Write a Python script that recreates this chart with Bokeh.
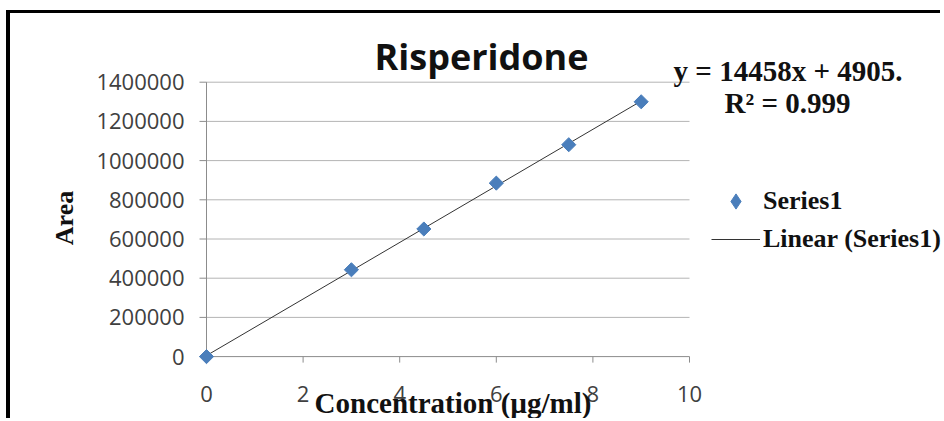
import numpy as np
from bokeh.plotting import figure
from bokeh.models import Range1d, Label, Legend, LegendItem
from bokeh.core.properties import value
from bokeh.embed import file_html
from bokeh.resources import INLINE

# ---- data ----
conc = [0, 3, 4.5, 6, 7.5, 9]
area = [0, 443000, 651000, 885000, 1081000, 1300000]
x_ticks = [0, 2, 4, 6, 8, 10]
y_ticks = [0, 200000, 400000, 600000, 800000, 1000000, 1200000, 1400000]
x_tick_labels = [str(v) for v in x_ticks]
y_tick_labels = [str(v) for v in y_ticks]
title_text = "Risperidone"
eq_text = "y = 14458x + 4905."
r2_text = "R\u00b2 = 0.999"
x_label = "Concentration (\u00b5g/ml)"
y_label = "Area"
series_name = "Series1"
trend_name = "Linear (Series1)"

BLUE = "#4a7ebb"
AXIS = "#8c8c8c"
GRID = "#b4b4b4"
SERIF = "Liberation Serif"
SANS = "Open Sans"

# ---- geometry (page pixels) ----
PAGE_W, PAGE_H = 944, 421
OX, OY = 10, 13                    # canvas origin on the page (after css margin+border)
X0_PX, KX = 206.0, 48.3            # page x of data x=0, px per x unit
Y0_PX, KY = 356.1, 39.2 / 200000   # page y of data y=0, px per y unit

def dx(px):
    return (px - X0_PX) / KX

def dy(py):
    return (Y0_PX - py) / KY

p = figure(width=PAGE_W - OX, height=PAGE_H - OY,
           x_range=Range1d(dx(OX), dx(PAGE_W)),
           y_range=Range1d(dy(PAGE_H), dy(OY)),
           x_axis_location=None, y_axis_location=None,
           output_backend="svg", toolbar_location=None, min_border=0)
p.styles = {"margin-left": "6px", "border-left": "4px solid #000",
            "margin-top": "10px", "border-top": "3px solid #000"}
p.outline_line_color = None
p.grid.visible = False

# gridlines
gy = y_ticks[1:]
p.segment(x0=[x_ticks[0]] * len(gy), x1=[x_ticks[-1]] * len(gy), y0=gy, y1=gy,
          line_color=GRID, line_width=1)
# axis lines
p.segment(x0=[x_ticks[0], x_ticks[0]], x1=[x_ticks[-1], x_ticks[0]],
          y0=[y_ticks[0], y_ticks[0]], y1=[y_ticks[0], y_ticks[-1]],
          line_color=AXIS, line_width=1)
# tick marks (7 px outwards on y, 6 px downwards on x)
ytl = 7 / KX
p.segment(x0=[x_ticks[0] - ytl] * len(y_ticks), x1=[x_ticks[0]] * len(y_ticks),
          y0=y_ticks, y1=y_ticks, line_color=AXIS, line_width=1)
xtl = 6 / KY
p.segment(x0=x_ticks, x1=x_ticks, y0=[y_ticks[0]] * len(x_ticks),
          y1=[y_ticks[0] - xtl] * len(x_ticks), line_color=AXIS, line_width=1)

# tick labels
p.text(x=[dx(184)] * len(y_ticks), y=y_ticks, text=y_tick_labels,
       text_font=value(SANS), text_font_size="22px", text_color="#404040",
       text_align="right", text_baseline="middle")
p.text(x=x_ticks, y=[dy(393.5)] * len(x_ticks), text=x_tick_labels,
       text_font=value(SANS), text_font_size="22px", text_color="#404040",
       text_align="center", text_baseline="middle")

# trendline (least-squares fit of the data)
slope, intercept = np.polyfit(conc, area, 1)
tx = np.array([min(conc), max(conc)])
trend = p.line(tx, slope * tx + intercept, line_color="#333333", line_width=1)

# points
pts = p.scatter(conc, area, marker="square", size=10, angle=np.pi / 4,
                fill_color=BLUE, line_color=BLUE)
# legend-only marker (diamond), positioned off-data so it draws nothing in the plot
leg_pts = p.scatter(x=[np.nan], y=[np.nan], marker="diamond", size=15,
                    fill_color=BLUE, line_color=BLUE)

leg_bottom = 258
legend = Legend(items=[LegendItem(label=series_name, renderers=[leg_pts]),
                       LegendItem(label=trend_name, renderers=[trend])],
                location=(711 - OX, PAGE_H - leg_bottom),
                glyph_width=49, glyph_height=38,
                label_standoff=3, spacing=0, padding=0, margin=0,
                border_line_color=None, background_fill_alpha=0,
                label_text_font=SERIF, label_text_font_style="bold",
                label_text_font_size="26px", label_text_color="#111111")
p.add_layout(legend, "center")

def lab(px, py, text, size, font=SERIF, angle=0.0, color="#111111"):
    p.add_layout(Label(x=dx(px), y=dy(py), text=text, text_font=font,
                       text_font_style="bold", text_font_size=size,
                       text_align="center", text_baseline="middle",
                       angle=angle, text_color=color))

lab(481, 56.2, title_text, "36px", font=SANS)
lab(787.5, 70.3, eq_text, "29px")
lab(787, 102.8, r2_text, "29px")
lab(452.5, 402.5, x_label, "29px")
lab(64.2, 217.5, y_label, "26px", angle=np.pi / 2)

open("out.html", "w").write(file_html(p, INLINE))
